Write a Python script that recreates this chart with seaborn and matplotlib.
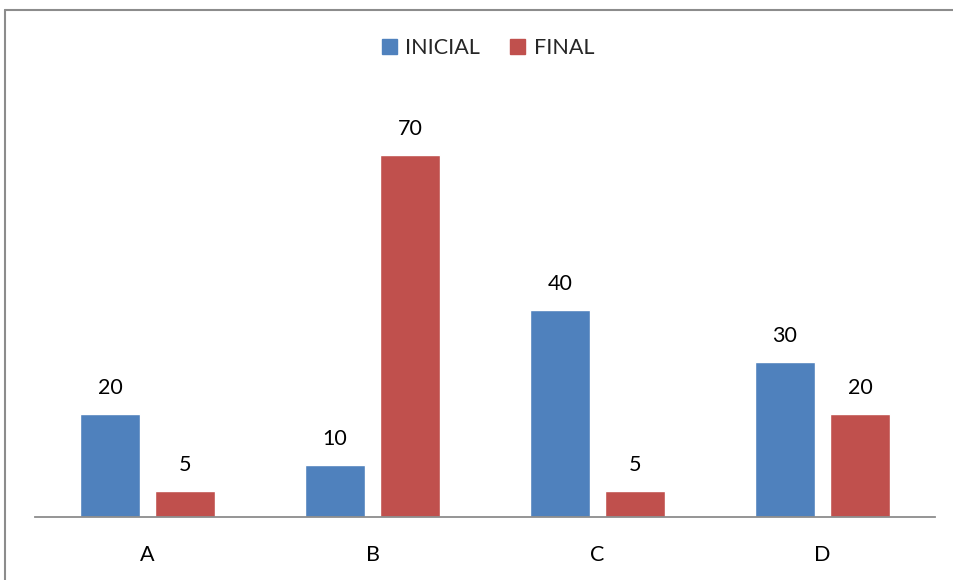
import matplotlib
matplotlib.use("Agg")
import matplotlib.pyplot as plt
from matplotlib.lines import Line2D
import seaborn as sns
import pandas as pd

categories = ["A", "B", "C", "D"]
series_names = ["INICIAL", "FINAL"]
inicial = [20, 10, 40, 30]
final = [5, 70, 5, 20]
colors = ["#4F81BD", "#C0504D"]

df = pd.DataFrame({
    "cat": categories * 2,
    "serie": [series_names[0]] * 4 + [series_names[1]] * 4,
    "valor": inicial + final,
})

sns.set_theme(style="white")
plt.rcParams["font.family"] = ["Lato", "DejaVu Sans"]

W, H = 954, 580
fig = plt.figure(figsize=(W / 100, H / 100), dpi=100)
# axes box in pixel terms: x 36..936, y 103..517 (from top)
ax = fig.add_axes([35 / W, 1 - 517 / H, 900 / W, (517 - 103) / H])

sns.barplot(data=df, x="cat", y="valor", hue="serie", order=categories,
            hue_order=series_names, palette=colors, width=0.667, gap=0.2,
            saturation=1, ax=ax, legend=False)

ax.set_xlim(-0.5, 3.5)
ax.set_ylim(0, 80)
ax.set_xlabel("")
ax.set_ylabel("")
ax.set_yticks([])
for s in ["top", "right", "left"]:
    ax.spines[s].set_visible(False)
ax.spines["bottom"].set_color("#8C8C8C")
ax.spines["bottom"].set_linewidth(1.3)
ax.tick_params(axis="x", length=0, pad=20, labelsize=15.5, colors="black")

for cont in ax.containers:
    ax.bar_label(cont, labels=[f"{v:g}" for v in cont.datavalues],
                 padding=11.5, fontsize=15.5, color="black")

handles = [plt.Rectangle((0, 0), 1, 1, color=c) for c in colors]
fig.legend(handles, series_names, loc="center", bbox_to_anchor=(488 / W, 1 - 48 / H),
           ncol=2, frameon=False, fontsize=15.5, handlelength=0.7, handleheight=0.7,
           handletextpad=0.4, columnspacing=1.4)

# outer border (top and left edges)
fig.add_artist(Line2D([5.5 / W, 1], [1 - 9.5 / H, 1 - 9.5 / H], color="#8C8C8C", lw=1.5))
fig.add_artist(Line2D([5.5 / W, 5.5 / W], [0, 1 - 9.5 / H], color="#8C8C8C", lw=1.5))

fig.savefig("out.png", dpi=100, facecolor="white")
